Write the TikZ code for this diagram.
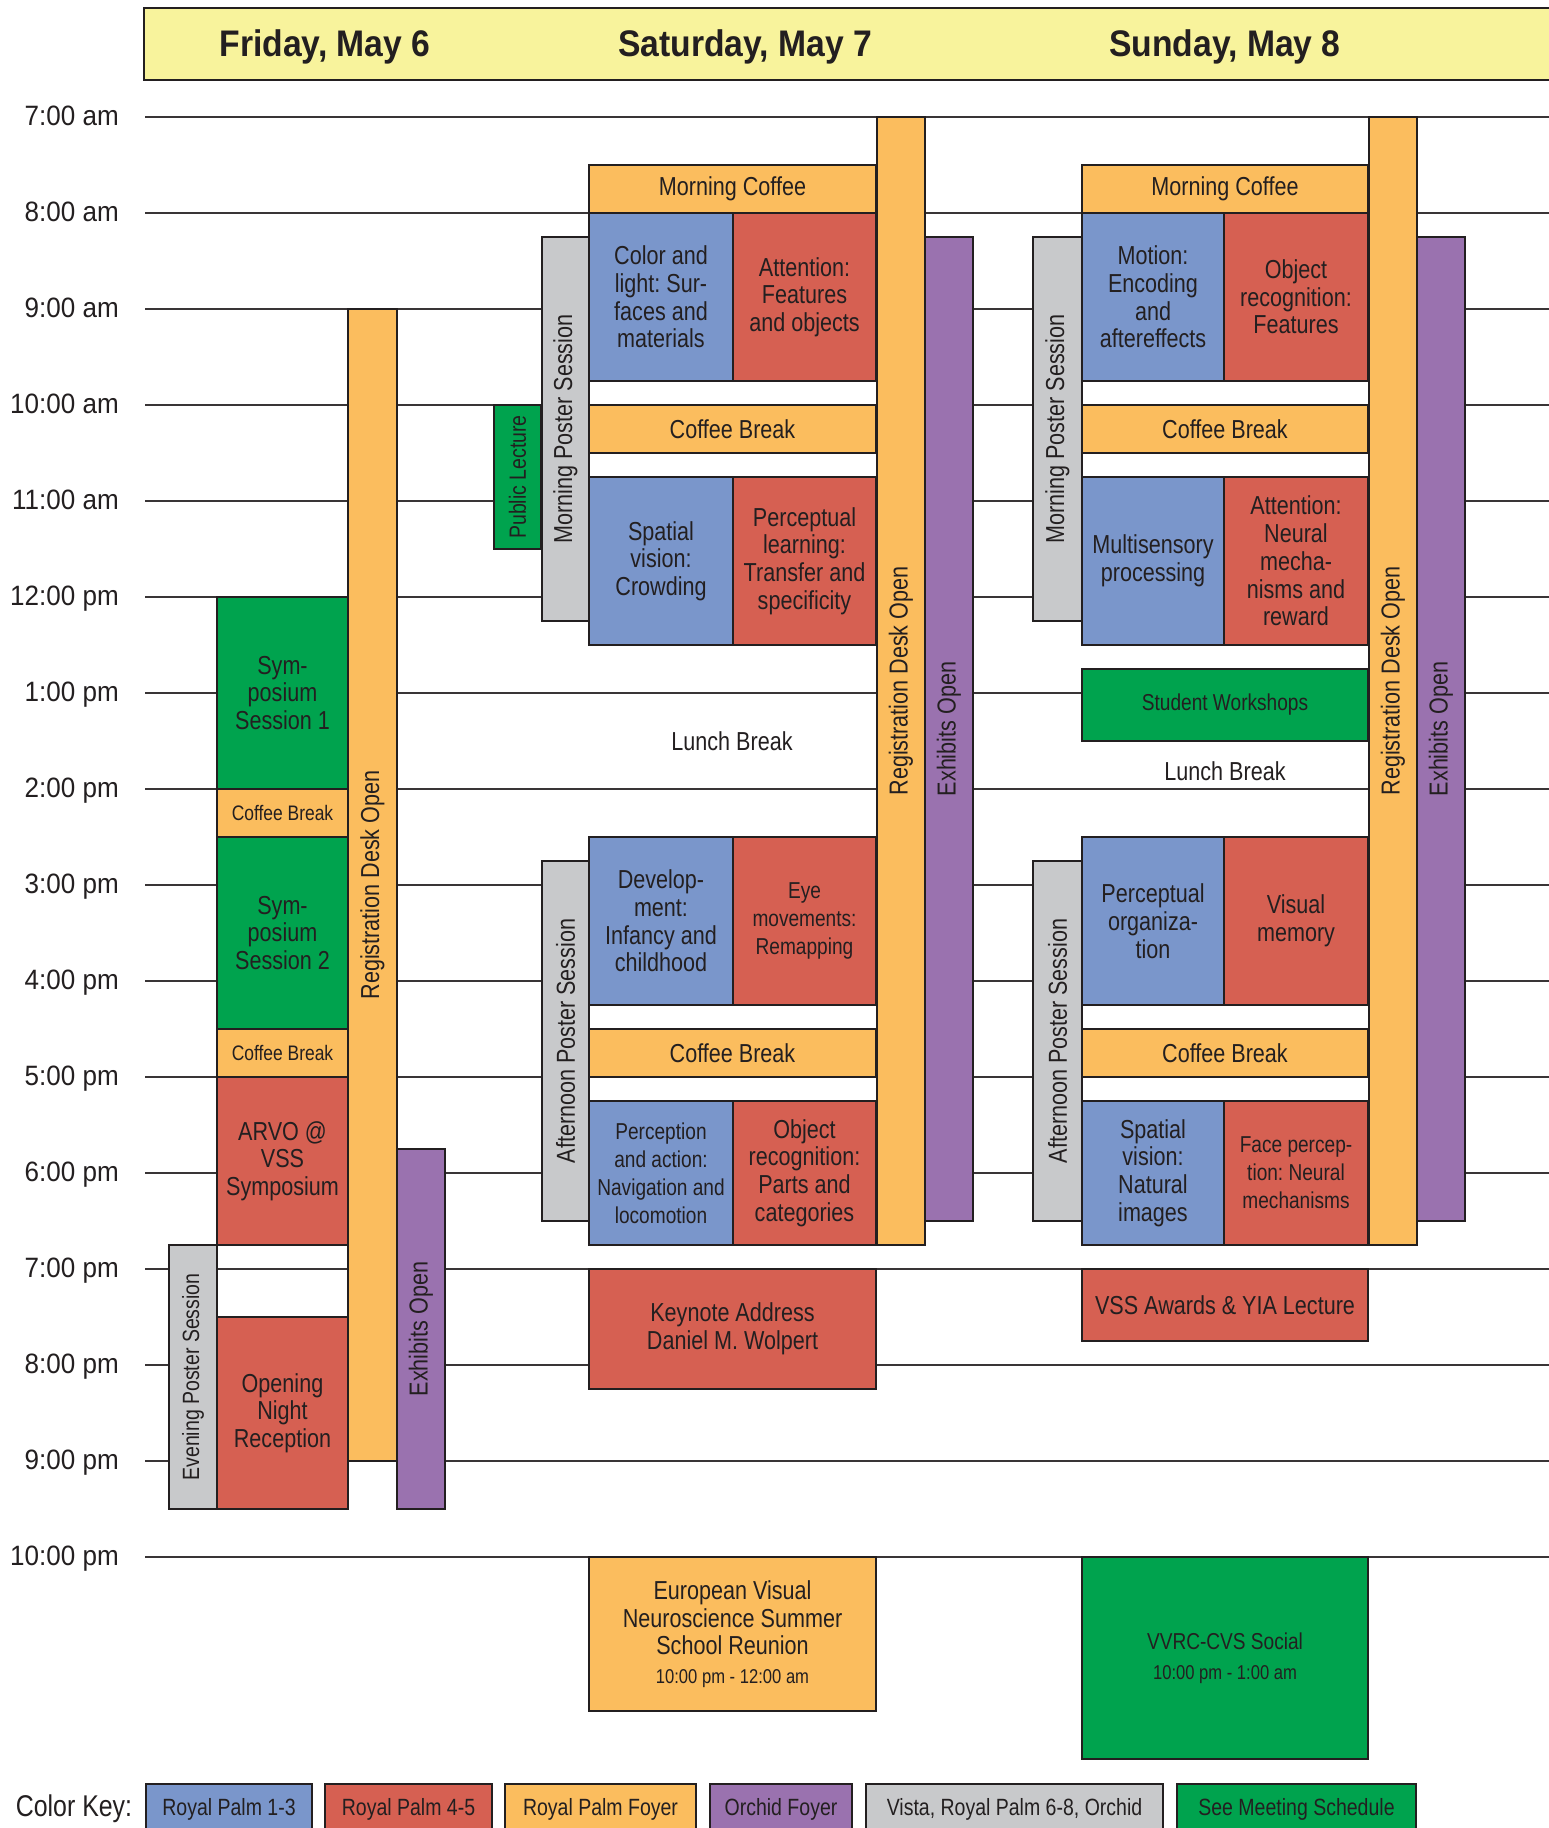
\documentclass[tikz,border=0pt]{standalone}
\usepackage{fontspec}
\setmainfont{Liberation Sans}
\newfontfamily\condf[FakeStretch=0.83]{Liberation Sans}
\newfontfamily\timef[FakeStretch=0.93]{Liberation Sans}
\newfontfamily\dayfont[FakeStretch=0.91]{Liberation Sans}
\frenchspacing
\definecolor{cblue}{HTML}{7A96CB}
\definecolor{cred}{HTML}{D66052}
\definecolor{corange}{HTML}{FBBD5E}
\definecolor{cpurple}{HTML}{9A72AF}
\definecolor{cgray}{HTML}{C8C9CB}
\definecolor{cgreen}{HTML}{00A34E}
\definecolor{cyellow}{HTML}{F8F39C}
\definecolor{ink}{HTML}{231F20}
\newcommand\evt[7]{%
  \pgfmathsetmacro\evw{#4-#2}\pgfmathsetmacro\evh{#5-#3}%
  \pgfmathsetmacro\evx{(#2+#4)/2}\pgfmathsetmacro\evy{(#3+#5)/2}%
  \node[evbox,#6,minimum width=\evw pt,minimum height=\evh pt] (#1) at (\evx,\evy) {#7};}
\tikzset{
  evbox/.style={draw=ink, line width=1.4pt, inner sep=0pt, align=center, text=ink,
    font={\condf\frenchspacing\fontsize{26}{27.7}\selectfont}},
  rp13/.style={fill=cblue},
  rp45/.style={fill=cred},
  foyer/.style={fill=corange},
  orchid/.style={fill=cpurple},
  vista/.style={fill=cgray},
  sched/.style={fill=cgreen},
  smalltxt/.style={font={\condf\frenchspacing\fontsize{23}{28}\selectfont}},
  tinytxt/.style={font={\condf\fontsize{21}{24}\selectfont}},
  keytxt/.style={font={\condf\fontsize{23.5}{26}\selectfont}},
  vtxt/.style={rotate=90, inner sep=0pt, text=ink, font={\condf\fontsize{26}{28}\selectfont}},
  vsmall/.style={font={\condf\fontsize{23.5}{26}\selectfont}},
  plain/.style={inner sep=0pt, text=ink, font={\condf\fontsize{26}{28}\selectfont}},
  hourline/.style={draw=ink!90, line width=1.2pt},
  tlabel/.style={anchor=base east, inner sep=0pt, text=ink, font={\timef\fontsize{28}{30}\selectfont}},
  daytxt/.style={anchor=base, inner sep=0pt, text=ink, font={\dayfont\bfseries\fontsize{37}{40}\selectfont}},
}
\begin{document}
\begin{tikzpicture}[x=1pt,y=-1pt]
\useasboundingbox (0,0) rectangle (1549,1828);
\fill[white] (0,0) rectangle (1549,1828);
% hour lines and labels
\foreach \lab [count=\i from 0] in {7:00 am,8:00 am,9:00 am,10:00 am,11:00 am,12:00 pm,1:00 pm,2:00 pm,3:00 pm,4:00 pm,5:00 pm,6:00 pm,7:00 pm,8:00 pm,9:00 pm,10:00 pm}{
  \pgfmathsetmacro\yy{117+96*\i}
  \draw[hourline] (145,\yy) -- (1549,\yy);
  \node[tlabel] (time\i) at (119,\yy+8) {\lab};
}
% header
\evt{hdr}{144}{8}{1562}{80}{fill=cyellow}{}
\node[daytxt] (dFri) at (325,57) {Friday, May 6};
\node[daytxt] (dSat) at (745,57) {Saturday, May 7};
\node[daytxt] (dSun) at (1225,57) {Sunday, May 8};
% Friday
\evt{friReg}{348}{309}{397}{1461}{foyer}{}
\evt{friSym1}{217}{597}{348}{789}{sched}{Sym-\\posium\\Session 1}
\evt{friCB1}{217}{789}{348}{837}{foyer,tinytxt}{Coffee Break}
\evt{friSym2}{217}{837}{348}{1029}{sched}{Sym-\\posium\\Session 2}
\evt{friCB2}{217}{1029}{348}{1077}{foyer,tinytxt}{Coffee Break}
\evt{friARVO}{217}{1077}{348}{1245}{rp45}{ARVO @\\VSS\\Symposium}
\evt{friEve}{169}{1245}{217}{1509}{vista}{}
\evt{friOpen}{217}{1317}{348}{1509}{rp45}{Opening\\Night\\Reception}
\evt{friExh}{397}{1149}{445}{1509}{orchid}{}
\node[vtxt] (friRegT) at (friReg.center) {Registration Desk Open};
\node[vtxt,vsmall] (friEveT) at (friEve.center) {Evening Poster Session};
\node[vtxt] (friExhT) at (friExh.center) {Exhibits Open};
% Saturday
\evt{satReg}{877}{117}{925}{1245}{foyer}{}
\evt{satExh}{925}{237}{973}{1221}{orchid}{}
\evt{satMC}{589}{165}{876}{213}{foyer}{Morning Coffee}
\evt{satA1}{589}{213}{733}{381}{rp13}{Color and\\light: Sur-\\faces and\\materials}
\evt{satA2}{733}{213}{876}{381}{rp45}{Attention:\\Features\\and objects}
\evt{satCB1}{589}{405}{876}{453}{foyer}{Coffee Break}
\evt{satB1}{589}{477}{733}{645}{rp13}{Spatial\\vision:\\Crowding}
\evt{satB2}{733}{477}{876}{645}{rp45}{Perceptual\\learning:\\Transfer and\\specificity}
\evt{satMP}{542}{237}{589}{621}{vista}{}
\evt{satPL}{494}{405}{541}{549}{sched}{}
\node[plain] (satLunch) at (732,741) {Lunch Break};
\evt{satAP}{542}{861}{589}{1221}{vista}{}
\evt{satC1}{589}{837}{733}{1005}{rp13}{Develop-\\ment:\\Infancy and\\childhood}
\evt{satC2}{733}{837}{876}{1005}{rp45,smalltxt}{Eye\\movements:\\Remapping}
\evt{satCB2}{589}{1029}{876}{1077}{foyer}{Coffee Break}
\evt{satD1}{589}{1101}{733}{1245}{rp13,smalltxt}{Perception\\and action:\\Navigation and\\locomotion}
\evt{satD2}{733}{1101}{876}{1245}{rp45}{Object\\recognition:\\Parts and\\categories}
\evt{satKey}{589}{1269}{876}{1389}{rp45}{Keynote Address\\Daniel M. Wolpert}
\evt{satEur}{589}{1557}{876}{1711}{foyer}{European Visual\\Neuroscience Summer\\School Reunion\\[1pt]{\fontsize{20}{24}\selectfont 10:00 pm - 12:00 am}}
\node[vtxt] (satRegT) at (satReg.center) {Registration Desk Open};
\node[vtxt] (satExhT) at (satExh.center) {Exhibits Open};
\node[vtxt] (satMPT) at (satMP.center) {Morning Poster Session};
\node[vtxt,vsmall] (satPLT) at (satPL.center) {Public Lecture};
\node[vtxt] (satAPT) at (satAP.center) {Afternoon Poster Session};
% Sunday
\evt{sunReg}{1369}{117}{1417}{1245}{foyer}{}
\evt{sunExh}{1417}{237}{1465}{1221}{orchid}{}
\evt{sunMC}{1082}{165}{1368}{213}{foyer}{Morning Coffee}
\evt{sunA1}{1082}{213}{1224}{381}{rp13}{Motion:\\Encoding\\and\\aftereffects}
\evt{sunA2}{1224}{213}{1368}{381}{rp45}{Object\\recognition:\\Features}
\evt{sunCB1}{1082}{405}{1368}{453}{foyer}{Coffee Break}
\evt{sunB1}{1082}{477}{1224}{645}{rp13}{Multisensory\\processing}
\evt{sunB2}{1224}{477}{1368}{645}{rp45}{Attention:\\Neural\\mecha-\\nisms and\\reward}
\evt{sunMP}{1033}{237}{1082}{621}{vista}{}
\evt{sunSW}{1082}{669}{1368}{741}{sched,smalltxt}{Student Workshops}
\node[plain] (sunLunch) at (1225,771) {Lunch Break};
\evt{sunAP}{1033}{861}{1082}{1221}{vista}{}
\evt{sunC1}{1082}{837}{1224}{1005}{rp13}{Perceptual\\organiza-\\tion}
\evt{sunC2}{1224}{837}{1368}{1005}{rp45}{Visual\\memory}
\evt{sunCB2}{1082}{1029}{1368}{1077}{foyer}{Coffee Break}
\evt{sunD1}{1082}{1101}{1224}{1245}{rp13}{Spatial\\vision:\\Natural\\images}
\evt{sunD2}{1224}{1101}{1368}{1245}{rp45,smalltxt}{Face percep-\\tion: Neural\\mechanisms}
\evt{sunVSS}{1082}{1269}{1368}{1341}{rp45}{VSS Awards \& YIA Lecture}
\evt{sunVVRC}{1082}{1557}{1368}{1759}{sched,smalltxt}{VVRC-CVS Social\\[2pt]{\fontsize{20}{24}\selectfont 10:00 pm - 1:00 am}}
\node[vtxt] (sunRegT) at (sunReg.center) {Registration Desk Open};
\node[vtxt] (sunExhT) at (sunExh.center) {Exhibits Open};
\node[vtxt] (sunMPT) at (sunMP.center) {Morning Poster Session};
\node[vtxt] (sunAPT) at (sunAP.center) {Afternoon Poster Session};
% colour key
\node[plain,font={\condf\fontsize{30}{32}\selectfont}] (keyTitle) at (74,1809) {Color Key:};
\evt{key1}{146}{1784}{312}{1834}{rp13,keytxt}{Royal Palm 1-3}
\evt{key2}{325}{1784}{492}{1834}{rp45,keytxt}{Royal Palm 4-5}
\evt{key3}{505}{1784}{696}{1834}{foyer,keytxt}{Royal Palm Foyer}
\evt{key4}{710}{1784}{852}{1834}{orchid,keytxt}{Orchid Foyer}
\evt{key5}{866}{1784}{1163}{1834}{vista,keytxt}{Vista, Royal Palm 6-8, Orchid}
\evt{key6}{1177}{1784}{1416}{1834}{sched,keytxt}{See Meeting Schedule}
\end{tikzpicture}
\end{document}
